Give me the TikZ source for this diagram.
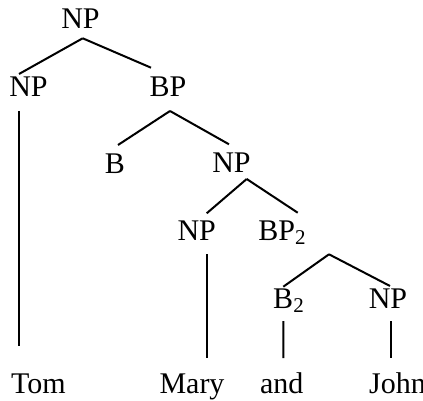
\documentclass[tikz,border=0pt]{standalone}
\usepackage{fontspec}
\setmainfont{Liberation Serif}
\usetikzlibrary{calc}
\tikzset{
  lbl/.style={inner sep=0pt, anchor=base, font=\fontsize{15}{18}\selectfont},
  branch/.style={line width=1pt}
}
\begin{document}
\begin{tikzpicture}[x=0.5pt, y=-0.5pt]
\useasboundingbox (0,0) rectangle (423,401);
% categories
\node[lbl] (np) at (80.5,29) {NP};
\node[lbl] (npTom) at (28.5,97) {NP};
\node[lbl] (bp) at (168,97) {BP};
\node[lbl] (b) at (115,173) {B};
\node[lbl] (npCo) at (231.5,172.5) {NP};
\node[lbl] (npMary) at (196.7,240) {NP};
\node[lbl] (bpTwo) at (282.5,240) {BP\textsubscript{2}};
\node[lbl] (bTwo) at (289,308) {B\textsubscript{2}};
\node[lbl] (npJohn) at (388,308) {NP};
% words
\node[lbl] (tom) at (38.3,393) {Tom};
\node[lbl] (mary) at (192,393) {Mary};
\node[lbl] (and) at (281.7,393) {and};
\node[lbl] (john) at (397.5,393) {John};
% branches
\draw[branch] ($(np.base)+(2.2,9.3)$) -- ($(npTom.base)+(-9.5,-23)$);
\draw[branch] ($(np.base)+(2.2,9.3)$) -- ($(bp.base)+(-17,-29.3)$);
\draw[branch] ($(npTom.base)+(-9.5,14)$) -- ($(tom.base)+(-19.3,-47.3)$);
\draw[branch] ($(bp.base)+(2,14)$) -- ($(b.base)+(3,-28)$);
\draw[branch] ($(bp.base)+(2,14)$) -- ($(npCo.base)+(-2.5,-28.2)$);
\draw[branch] ($(npCo.base)+(15.2,6.5)$) -- ($(npMary.base)+(10,-26.7)$);
\draw[branch] ($(npCo.base)+(15.2,6.5)$) -- ($(bpTwo.base)+(15.2,-27.3)$);
\draw[branch] ($(npMary.base)+(10.6,14)$) -- ($(mary.base)+(15.3,-35)$);
\draw[branch] ($(bpTwo.base)+(46.5,14.3)$) -- ($(bTwo.base)+(-5.7,-21.3)$);
\draw[branch] ($(bpTwo.base)+(46.5,14.3)$) -- ($(npJohn.base)+(2,-22)$);
\draw[branch] ($(bTwo.base)+(-5.7,13)$) -- ($(and.base)+(1.6,-35)$);
\draw[branch] ($(npJohn.base)+(3,13)$) -- ($(john.base)+(-6.5,-35)$);
\end{tikzpicture}
\end{document}
